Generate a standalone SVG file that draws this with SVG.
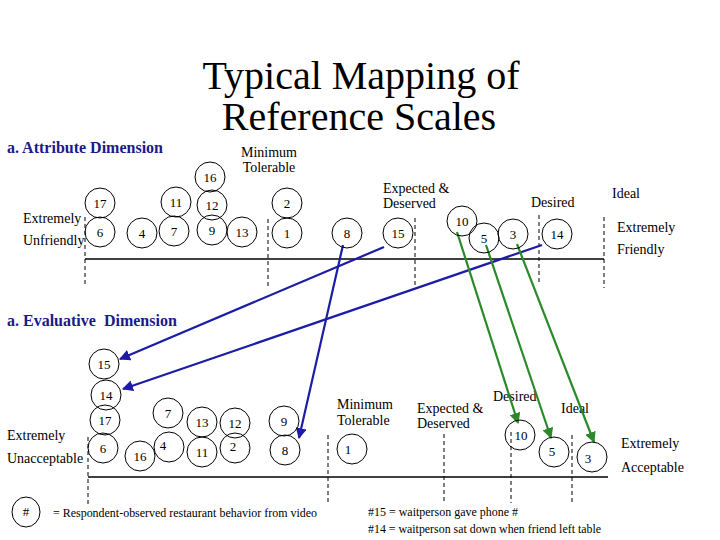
<svg xmlns="http://www.w3.org/2000/svg" width="720" height="540" viewBox="0 0 720 540">
<style>
text{font-family:"Liberation Serif","Times New Roman",serif;fill:#000}
.t{font-size:40px;text-anchor:middle}
.h{font-size:16px;font-weight:bold;fill:#1a1a8a;white-space:pre}
.l{font-size:14px}
.s{font-size:12px}
.n circle,.n ellipse{fill:none;stroke:#000;stroke-width:1}
.n text{font-size:13px;text-anchor:middle}
.ax{stroke:#000;stroke-width:1.5;fill:none}
.d{stroke:#000;stroke-width:1;stroke-dasharray:4,3;fill:none}
.b{stroke:#1c1ca6;stroke-width:2.2;fill:none}
.g{stroke:#2a8a2a;stroke-width:2.2;fill:none}
</style>
<defs>
<marker id="ab" viewBox="0 0 10 10" refX="9" refY="5" markerWidth="5" markerHeight="5" orient="auto" markerUnits="strokeWidth"><path d="M0,0L10,5L0,10z" fill="#1c1ca6"/></marker>
<marker id="ag" viewBox="0 0 10 10" refX="9" refY="5" markerWidth="5" markerHeight="5" orient="auto" markerUnits="strokeWidth"><path d="M0,0L10,5L0,10z" fill="#2a8a2a"/></marker>
</defs>
<rect width="720" height="540" fill="#fff"/>
<text class="t" x="361" y="89">Typical Mapping of</text>
<text class="t" x="359" y="130">Reference Scales</text>
<text class="h" x="7" y="153">a. Attribute Dimension</text>
<text class="h" x="7" y="326" xml:space="preserve">a. Evaluative  Dimension</text>

<g id="top-scale">
<line class="ax" x1="85" y1="259" x2="604" y2="259"/>
<line class="d" x1="85" y1="217" x2="85" y2="287"/>
<line class="d" x1="268" y1="219" x2="268" y2="287"/>
<line class="d" x1="415" y1="218" x2="415" y2="288"/>
<line class="d" x1="539" y1="215" x2="539" y2="285"/>
<line class="d" x1="604" y1="217" x2="604" y2="288"/>
<text class="l" x="23" y="223">Extremely</text>
<text class="l" x="23" y="245">Unfriendly</text>
<text class="l" x="269" y="157" text-anchor="middle">Minimum</text>
<text class="l" x="269" y="172" text-anchor="middle">Tolerable</text>
<text class="l" x="383" y="193">Expected &amp;</text>
<text class="l" x="383" y="208">Deserved</text>
<text class="l" x="531" y="207">Desired</text>
<text class="l" x="612" y="198">Ideal</text>
<text class="l" x="617" y="232">Extremely</text>
<text class="l" x="617" y="254">Friendly</text>
</g>

<g id="bottom-scale">
<line class="ax" x1="88" y1="477" x2="608" y2="477"/>
<line class="d" x1="88" y1="437" x2="88" y2="507"/>
<line class="d" x1="328" y1="435" x2="328" y2="505"/>
<line class="d" x1="444" y1="434" x2="444" y2="503"/>
<line class="d" x1="511" y1="432" x2="511" y2="503"/>
<line class="d" x1="572" y1="435" x2="572" y2="503"/>
<text class="l" x="7" y="440">Extremely</text>
<text class="l" x="7" y="463">Unacceptable</text>
<text class="l" x="337" y="409">Minimum</text>
<text class="l" x="337" y="425">Tolerable</text>
<text class="l" x="417" y="413">Expected &amp;</text>
<text class="l" x="417" y="428">Deserved</text>
<text class="l" x="493" y="401">Desired</text>
<text class="l" x="561" y="413">Ideal</text>
<text class="l" x="621" y="448">Extremely</text>
<text class="l" x="621" y="472">Acceptable</text>
</g>

<g id="connectors">
<line class="b" x1="542" y1="245" x2="123" y2="389" marker-end="url(#ab)"/>
<line class="b" x1="384" y1="247" x2="120" y2="359" marker-end="url(#ab)"/>
<line class="b" x1="343" y1="245" x2="299" y2="438" marker-end="url(#ab)"/>
<line class="g" x1="457" y1="232" x2="518" y2="423" marker-end="url(#ag)"/>
<line class="g" x1="486" y1="245" x2="551" y2="438" marker-end="url(#ag)"/>
<line class="g" x1="517" y1="244" x2="594" y2="442" marker-end="url(#ag)"/>
</g>

<g id="top-nodes">
<g id="t16" class="n"><circle cx="210" cy="177" r="15"/><text x="210" y="182">16</text></g>
<g id="t17" class="n"><circle cx="100" cy="203" r="15"/><text x="100" y="208">17</text></g>
<g id="t6" class="n"><circle cx="100" cy="232" r="15"/><text x="100" y="237">6</text></g>
<g id="t4" class="n"><circle cx="142" cy="233" r="15"/><text x="142" y="238">4</text></g>
<g id="t11" class="n"><circle cx="176" cy="202" r="15"/><text x="176" y="207">11</text></g>
<g id="t7" class="n"><circle cx="174" cy="231" r="15"/><text x="174" y="236">7</text></g>
<g id="t12" class="n"><circle cx="212" cy="205" r="15"/><text x="212" y="210">12</text></g>
<g id="t9" class="n"><circle cx="212" cy="230" r="15"/><text x="212" y="235">9</text></g>
<g id="t13" class="n"><circle cx="242" cy="232" r="15"/><text x="242" y="237">13</text></g>
<g id="t2" class="n"><circle cx="287" cy="203" r="15"/><text x="287" y="208">2</text></g>
<g id="t1" class="n"><circle cx="287" cy="233" r="15"/><text x="287" y="238">1</text></g>
<g id="t8" class="n"><circle cx="347" cy="233" r="15"/><text x="347" y="238">8</text></g>
<g id="t15" class="n"><circle cx="398" cy="233" r="15"/><text x="398" y="238">15</text></g>
<g id="t10" class="n"><circle cx="462" cy="221" r="15"/><text x="462" y="226">10</text></g>
<g id="t5" class="n"><circle cx="484" cy="238" r="15"/><text x="484" y="243">5</text></g>
<g id="t3" class="n"><circle cx="513" cy="234" r="15"/><text x="513" y="239">3</text></g>
<g id="t14" class="n"><circle cx="557" cy="234" r="15"/><text x="557" y="239">14</text></g>
</g>

<g id="bottom-nodes">
<g id="b15" class="n"><circle cx="104" cy="364" r="15"/><text x="104" y="369">15</text></g>
<g id="b14" class="n"><circle cx="106" cy="395" r="15"/><text x="106" y="400">14</text></g>
<g id="b17" class="n"><circle cx="105" cy="420" r="15"/><text x="105" y="425">17</text></g>
<g id="b6" class="n"><circle cx="103" cy="448" r="15"/><text x="103" y="453">6</text></g>
<g id="b16" class="n"><circle cx="140" cy="456" r="15"/><text x="140" y="461">16</text></g>
<g id="b7" class="n"><circle cx="168" cy="413" r="15"/><text x="168" y="418">7</text></g>
<g id="b4" class="n"><circle cx="169" cy="447" r="15"/><text x="163" y="450">4</text></g>
<g id="b13" class="n"><circle cx="202" cy="422" r="15"/><text x="202" y="427">13</text></g>
<g id="b11" class="n"><circle cx="202" cy="452" r="15"/><text x="202" y="457">11</text></g>
<g id="b12" class="n"><circle cx="235" cy="423" r="15"/><text x="235" y="428">12</text></g>
<g id="b2" class="n"><circle cx="235" cy="448" r="15"/><text x="233" y="451">2</text></g>
<g id="b9" class="n"><circle cx="284" cy="421" r="15"/><text x="284" y="426">9</text></g>
<g id="b8" class="n"><circle cx="285" cy="450" r="15"/><text x="285" y="455">8</text></g>
<g id="b1" class="n"><circle cx="352" cy="449" r="15"/><text x="348" y="454">1</text></g>
<g id="b10" class="n"><circle cx="520" cy="435" r="15"/><text x="521" y="440">10</text></g>
<g id="b5" class="n"><circle cx="554" cy="452" r="15"/><text x="552" y="456">5</text></g>
<g id="b3" class="n"><circle cx="592" cy="457" r="15"/><text x="588" y="463">3</text></g>
</g>

<g id="legend">
<g id="legend-node" class="n"><ellipse cx="26" cy="512" rx="14" ry="15"/><text x="26" y="516">#</text></g>
<text class="s" x="53" y="517" textLength="264" lengthAdjust="spacingAndGlyphs">= Respondent-observed restaurant behavior from video</text>
<text class="s" x="368" y="516" textLength="150" lengthAdjust="spacingAndGlyphs">#15 = waitperson gave  phone #</text>
<text class="s" x="368" y="533" textLength="233" lengthAdjust="spacingAndGlyphs">#14 = waitperson sat down when friend left table</text>
</g>
</svg>
